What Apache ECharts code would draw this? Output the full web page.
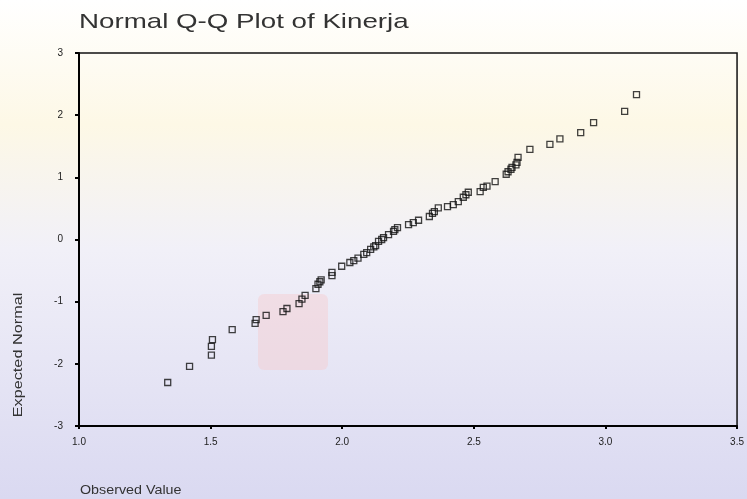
<!DOCTYPE html>
<html>
<head>
<meta charset="utf-8">
<script src="https://cdn.jsdelivr.net/npm/echarts@6/dist/echarts.min.js"></script>
<style>
html,body{margin:0;padding:0;background:#fff;}
#chart{width:747px;height:499px;}
</style>
</head>
<body>
<div id="chart"></div>
<script>
const observed = [1.337,1.420,1.503,1.503,1.507,1.582,1.669,1.673,1.711,1.775,1.790,1.836,1.847,1.859,1.900,1.908,1.915,1.920,1.961,1.961,1.998,2.029,2.044,2.060,2.082,2.093,2.108,2.120,2.127,2.138,2.150,2.157,2.176,2.195,2.200,2.210,2.252,2.270,2.290,2.331,2.343,2.350,2.365,2.400,2.422,2.441,2.460,2.470,2.479,2.524,2.536,2.550,2.581,2.623,2.630,2.641,2.645,2.660,2.664,2.668,2.713,2.789,2.827,2.906,2.955,3.073,3.118];
const expected = [-2.30,-2.04,-1.86,-1.72,-1.61,-1.45,-1.35,-1.29,-1.22,-1.16,-1.11,-1.03,-0.96,-0.90,-0.79,-0.72,-0.68,-0.65,-0.58,-0.53,-0.43,-0.37,-0.34,-0.30,-0.24,-0.21,-0.16,-0.12,-0.10,-0.03,0.00,0.03,0.08,0.13,0.16,0.19,0.24,0.27,0.31,0.37,0.42,0.45,0.51,0.53,0.56,0.61,0.68,0.72,0.76,0.77,0.84,0.86,0.93,1.05,1.09,1.13,1.16,1.20,1.24,1.32,1.45,1.53,1.62,1.72,1.88,2.06,2.33];
const xTicks = [1.0,1.5,2.0,2.5,3.0,3.5];
const yTicks = [-3,-2,-1,0,1,2,3];
const titleText = 'Normal Q-Q Plot of Kinerja';
const xName = 'Observed Value';
const yName = 'Expected Normal';

const points = observed.map((v,i)=>[v,expected[i]]);
const FONT = 'Liberation Sans, Arial, sans-serif';
const chart = echarts.init(document.getElementById('chart'));
chart.setOption({
  backgroundColor: {
    type:'linear', x:0, y:0, x2:0, y2:1,
    colorStops:[
      {offset:0,color:'#ffffff'},
      {offset:0.25,color:'#fdf8e6'},
      {offset:0.5,color:'#f1f0f8'},
      {offset:1,color:'#dad9f1'}
    ]
  },
  animation:false,
  graphic:[
    {type:'rect', shape:{x:258,y:294,width:70,height:76,r:6}, style:{fill:'rgba(250,195,195,0.35)'}, z:-1},
    {type:'text', x:79, y:22, scaleX:1.32, style:{text:titleText, font:'21px '+FONT, fill:'#333', verticalAlign:'middle'}},
    {type:'text', x:80, y:490, scaleX:1.1, style:{text:xName, font:'13px '+FONT, fill:'#333', verticalAlign:'middle'}},
    {type:'text', x:18, y:355, rotation:Math.PI/2, scaleX:1.25, style:{text:yName, font:'13px '+FONT, fill:'#333', align:'center', verticalAlign:'middle'}}
  ],
  grid:{left:79,right:7,top:53,bottom:73,show:true,borderColor:'#111',borderWidth:1.5,backgroundColor:'transparent'},
  xAxis:{
    type:'value', min:1.0, max:3.5, interval:0.5,
    axisLine:{show:true,onZero:false,lineStyle:{color:'#000',width:2}},
    axisTick:{show:true,length:3,lineStyle:{color:'#000',width:2}},
    splitLine:{show:false},
    axisLabel:{color:'#222',fontSize:10,fontFamily:FONT,margin:11,formatter:v=>v.toFixed(1)}
  },
  yAxis:{
    type:'value', min:-3, max:3, interval:1,
    axisLine:{show:true,onZero:false,lineStyle:{color:'#000',width:2}},
    axisTick:{show:true,length:4,lineStyle:{color:'#000',width:2}},
    splitLine:{show:false},
    axisLabel:{color:'#222',fontSize:10,fontFamily:FONT,margin:16}
  },
  series:[{
    type:'scatter',
    data:points,
    symbol:'rect',
    symbolSize:6,
    itemStyle:{color:'rgba(255,255,255,0)',borderColor:'#111',borderWidth:1.3}
  }]
});
</script>
</body>
</html>
